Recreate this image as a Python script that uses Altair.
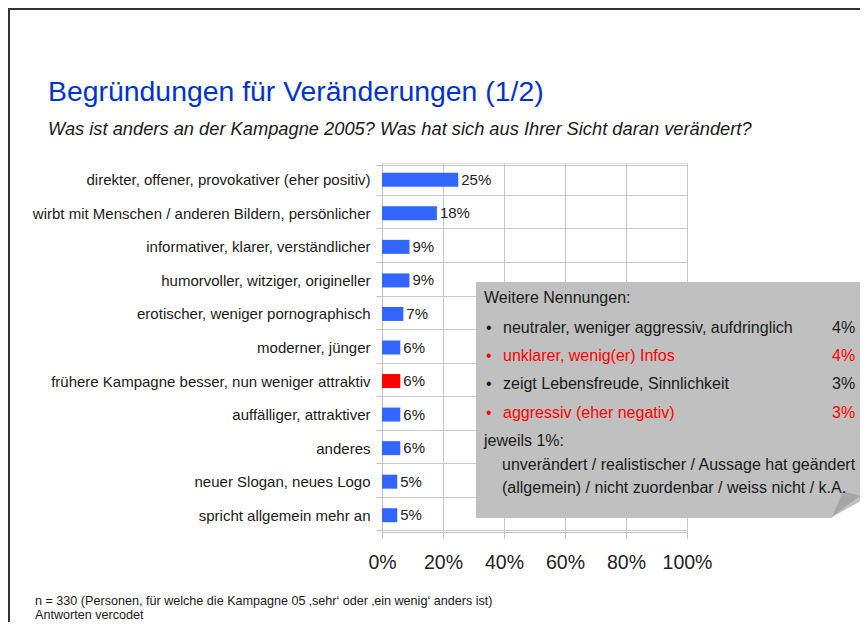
import altair as alt
import pandas as pd

# ---- data ----
categories = [
    "direkter, offener, provokativer (eher positiv)",
    "wirbt mit Menschen / anderen Bildern, persönlicher",
    "informativer, klarer, verständlicher",
    "humorvoller, witziger, origineller",
    "erotischer, weniger pornographisch",
    "moderner, jünger",
    "frühere Kampagne besser, nun weniger attraktiv",
    "auffälliger, attraktiver",
    "anderes",
    "neuer Slogan, neues Logo",
    "spricht allgemein mehr an",
]
values = [25, 18, 9, 9, 7, 6, 6, 6, 6, 5, 5]
negative = [False, False, False, False, False, False, True, False, False, False, False]
x_ticks = [0, 20, 40, 60, 80, 100]

box_title = "Weitere Nennungen:"
box_items = [
    "neutraler, weniger aggressiv, aufdringlich",
    "unklarer, wenig(er) Infos",
    "zeigt Lebensfreude, Sinnlichkeit",
    "aggressiv (eher negativ)",
]
box_item_values = ["4%", "4%", "3%", "3%"]
box_item_negative = [False, True, False, True]
box_rest_title = "jeweils 1%:"
box_rest_lines = [
    "unverändert / realistischer / Aussage hat geändert",
    "(allgemein) / nicht zuordenbar / weiss nicht / k.A.",
]

title = "Begründungen für Veränderungen (1/2)"
subtitle = "Was ist anders an der Kampagne 2005? Was hat sich aus Ihrer Sicht daran verändert?"
footnotes = [
    "n = 330 (Personen, für welche die Kampagne 05 ‚sehr‘ oder ‚ein wenig‘ anders ist)",
    "Antworten vercodet",
]

# ---- layout ----
SANS = "Liberation Sans, Arial, sans-serif"
PL, PT = 374, 155          # plot area starts at page (382,163)
W, H = 305, 369
TOTAL_W, TOTAL_H = 852, 614
PR = TOTAL_W - PL - W
PB = TOTAL_H - PT - H
OX, OY = 382, 163          # page coords of plot origin
RIGHT = 8 + TOTAL_W        # page x of right edge
BLUE = "#3366FF"
RED = "#FF0000"
TXT = "#1a1a1a"

df = pd.DataFrame({
    "cat": categories,
    "val": values,
    "col": [RED if n else BLUE for n in negative],
    "lbl": [f"{v}%" for v in values],
})

base = alt.Chart(df)
bars = base.mark_bar(size=14).encode(
    y=alt.Y("cat:N", sort=categories, title=None,
            axis=alt.Axis(tickBand="extent", grid=True, gridColor="#C8C8C8",
                          domainColor="#BFBFBF", tickColor="#BFBFBF", tickSize=6,
                          labelPadding=6, labelFont=SANS, labelFontSize=15,
                          labelColor=TXT, labelLimit=400)),
    x=alt.X("val:Q", title=None, scale=alt.Scale(domain=[0, 100], nice=False),
            axis=alt.Axis(values=x_ticks, labelExpr="datum.value + '%'",
                          labelOverlap=False, labelFlush=False, labelBound=False,
                          grid=True, gridColor="#C8C8C8", domainColor="#BFBFBF",
                          tickColor="#BFBFBF", tickSize=6, labelPadding=15,
                          labelFont=SANS, labelFontSize=19.5, labelColor="#222")),
    color=alt.Color("col:N", scale=None),
)
bar_labels = base.mark_text(align="left", baseline="middle", dx=3, font=SANS,
                            fontSize=15, color="#222").encode(
    y=alt.Y("cat:N", sort=categories), x="val:Q", text="lbl:N")

one = pd.DataFrame({"a": [0]})

# gray callout box
box = alt.Chart(one).mark_rect(color="#C0C0C0").encode(
    x=alt.value(476 - OX), x2=alt.value(RIGHT + 10 - OX),
    y=alt.value(282 - OY), y2=alt.value(518 - OY))

# page-curl at the lower right corner of the box
cx = RIGHT - 868   # shift so the curl ends at the drawable right edge
white_corner = pd.DataFrame({
    "x": [840 + cx - OX, RIGHT + 10 - OX],
    "y": [517 - OY, 496 - OY],
    "y2": [519 - OY, 519 - OY],
})
fold = pd.DataFrame({
    "x": [840 + cx - OX, 851 + cx - OX, RIGHT - OX],
    "y": [517 - OY, 491 - OY, 496 - OY],
    "y2": [517 - OY, 508.5 - OY, 496 - OY],
})
corner_white = alt.Chart(white_corner).mark_area(color="white").encode(
    x=alt.X("x:Q", scale=None), y=alt.Y("y:Q", scale=None),
    y2=alt.Y2("y2:Q"))
corner_fold = alt.Chart(fold).mark_area(color="#A6A6A6").encode(
    x=alt.X("x:Q", scale=None), y=alt.Y("y:Q", scale=None),
    y2=alt.Y2("y2:Q"))

# box text rows
rows = []
rows.append({"t": box_title, "x": 484, "y": 298, "c": TXT})
item_y = [328, 356, 384, 413]
for i, (txt, v, neg) in enumerate(zip(box_items, box_item_values, box_item_negative)):
    c = RED if neg else TXT
    rows.append({"t": "•", "x": 486, "y": item_y[i], "c": c})
    rows.append({"t": txt, "x": 503, "y": item_y[i], "c": c})
    rows.append({"t": v, "x": RIGHT - 28, "y": item_y[i], "c": c})
rows.append({"t": box_rest_title, "x": 484, "y": 441, "c": TXT})
for j, txt in enumerate(box_rest_lines):
    rows.append({"t": txt, "x": 502, "y": 465 + j * 23, "c": TXT})
bdf = pd.DataFrame(rows)
bdf["px"] = bdf["x"] - OX
bdf["py"] = bdf["y"] - OY
box_text = alt.Chart(bdf).mark_text(align="left", baseline="middle", font=SANS,
                                     fontSize=16).encode(
    x=alt.X("px:Q", scale=None), y=alt.Y("py:Q", scale=None),
    text="t:N", color=alt.Color("c:N", scale=None))

# title / subtitle / footnotes
def txt_layer(text, x, y, size, color, style="normal"):
    d = pd.DataFrame({"t": [text], "px": [x - OX], "py": [y - OY]})
    return alt.Chart(d).mark_text(align="left", baseline="alphabetic", font=SANS,
                                  fontSize=size, fontStyle=style, color=color).encode(
        x=alt.X("px:Q", scale=None), y=alt.Y("py:Q", scale=None), text="t:N")

title_txt = txt_layer(title, 48, 101, 28.4, "#0033CC")
sub_txt = txt_layer(subtitle, 48, 135, 18.3, TXT, "italic")
foot1 = txt_layer(footnotes[0], 35, 605, 12.6, TXT)
foot2 = txt_layer(footnotes[1], 35, 619, 12.6, TXT)

# slide frame lines
frame_left = alt.Chart(one).mark_rule(color="#333", strokeWidth=2).encode(
    x=alt.value(-PL + 1), y=alt.value(-PT), y2=alt.value(H + PB))
frame_top = alt.Chart(one).mark_rule(color="#333", strokeWidth=2).encode(
    x=alt.value(-PL), x2=alt.value(W + PR), y=alt.value(-PT + 1))

chart = alt.layer(bars, bar_labels, box, corner_white, corner_fold, box_text,
                  title_txt, sub_txt, foot1, foot2,
                  frame_left, frame_top).properties(
    width=W, height=H,
    autosize=alt.AutoSizeParams(type="none"),
    padding={"left": PL, "top": PT, "right": PR, "bottom": PB},
).configure_view(stroke="#C8C8C8").configure(background="white")

chart.save("out.html", embed_options={"renderer": "svg", "actions": False})
